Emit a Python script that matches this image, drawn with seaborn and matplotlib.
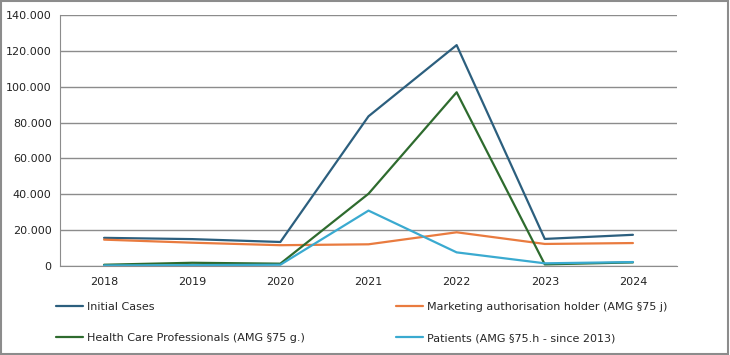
import matplotlib.pyplot as plt
import matplotlib.ticker as mticker
from matplotlib.patches import Rectangle
import pandas as pd
import seaborn as sns

years = ["2018", "2019", "2020", "2021", "2022", "2023", "2024"]
initial_cases = [15700, 15000, 13400, 83500, 123200, 15100, 17400]
marketing_holder = [14700, 13000, 11600, 12100, 18800, 12300, 12800]
health_care_prof = [700, 1800, 1300, 40300, 96900, 900, 2000]
patients = [300, 500, 700, 30900, 7600, 1500, 2200]

series_names = [
    "Initial Cases",
    "Marketing authorisation holder (AMG §75 j)",
    "Health Care Professionals (AMG §75 g.)",
    "Patients (AMG §75.h - since 2013)",
]
colors = ["#2c5f7e", "#e97b3f", "#2e6b2e", "#3aaad0"]

# Build long table for seaborn
rows = []
for name, vals in zip(series_names, [initial_cases, marketing_holder, health_care_prof, patients]):
    for i, (yr, v) in enumerate(zip(years, vals)):
        rows.append({"pos": i, "year": yr, "value": v, "series": name})
df = pd.DataFrame(rows)

sns.set_style("white")
plt.rcParams["font.family"] = ["DejaVu Sans"]

fig = plt.figure(figsize=(7.3, 3.55), dpi=100)
ax = fig.add_axes([60 / 730, 1 - 266 / 355, 617 / 730, 251 / 355])

sns.lineplot(data=df, x="pos", y="value", hue="series", hue_order=series_names,
             palette=colors, linewidth=1.6, ax=ax, legend=False)

ax.set_xlim(-0.5, 6.5)
ax.set_ylim(0, 140000)
ax.set_yticks(range(0, 140001, 20000))
ax.yaxis.set_major_formatter(mticker.FuncFormatter(lambda v, p: f"{int(v):,}".replace(",", ".")))
ax.set_xticks(range(len(years)))
ax.set_xticklabels(years)
ax.set_xticks([i - 0.5 for i in range(len(years) + 1)], minor=True)
ax.tick_params(axis="x", which="major", length=0, pad=8, labelsize=8, colors="#222222")
ax.tick_params(axis="x", which="minor", length=4, color="#888888", width=1)
ax.tick_params(axis="y", length=0, pad=6, labelsize=8, colors="#222222")
ax.set_xlabel("")
ax.set_ylabel("")
ax.grid(axis="y", color="#8c8c8c", linewidth=1)
ax.set_axisbelow(True)
for s in ["top", "right"]:
    ax.spines[s].set_visible(False)
ax.spines["left"].set_color("#8c8c8c")
ax.spines["bottom"].set_color("#8c8c8c")

# Legend below the chart, two columns (filled column-wise, so reorder)
order = [0, 2, 1, 3]
handles = [plt.Line2D([], [], color=colors[i], linewidth=1.6) for i in order]
labels = [series_names[i] for i in order]
fig.legend(handles, labels, loc="upper left", bbox_to_anchor=(56 / 730, 1 - 302 / 355),
           ncol=2, frameon=False, fontsize=8, borderpad=0, borderaxespad=0,
           handlelength=2.4, handletextpad=0.4, columnspacing=8.2, labelspacing=1.9)

# Outer border
fig.patches.append(Rectangle((0.001, 0.002), 0.996, 0.995, transform=fig.transFigure,
                             fill=False, edgecolor="#8c8c8c", linewidth=1.5))

fig.savefig("out.png", dpi=100)
